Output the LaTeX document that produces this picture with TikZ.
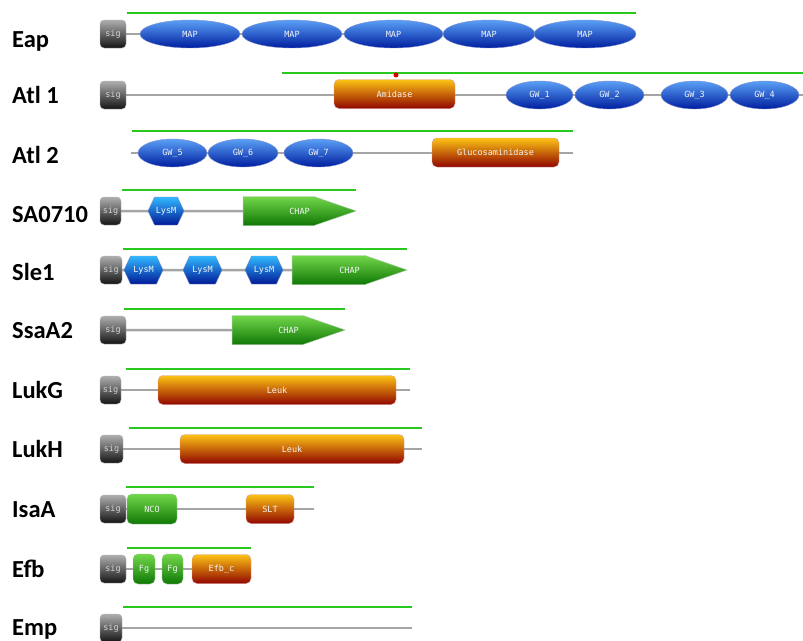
\documentclass[tikz,border=0pt]{standalone}
\usepackage{fontspec}
\setmainfont{Carlito}
\newfontfamily\domfont{DejaVu Sans Mono}
\usetikzlibrary{shapes,shapes.geometric,shapes.symbols,positioning,backgrounds}
\definecolor{mapTop}{RGB}{90,160,245}
\definecolor{mapBot}{RGB}{0,30,160}
\definecolor{orgTop}{RGB}{252,195,20}
\definecolor{orgBot}{RGB}{145,5,0}
\definecolor{grnTop}{RGB}{115,215,75}
\definecolor{grnBot}{RGB}{15,120,5}
\definecolor{sigTop}{RGB}{175,175,175}
\definecolor{sigBot}{RGB}{20,20,20}
\definecolor{lysTop}{RGB}{50,185,255}
\definecolor{lysBot}{RGB}{0,25,150}
\definecolor{spanGreen}{RGB}{40,200,30}
\definecolor{chainGray}{RGB}{165,165,165}

\begin{document}
\begin{tikzpicture}[x=1pt, y=-1pt]
    \tikzstyle{protname} = [anchor=base west, inner sep=0pt, font=\fontsize{24.5}{24.5}\selectfont\bfseries]
    \tikzstyle{domtext} = [inner sep=0pt, text=white!92!gray, font=\domfont\fontsize{8.5}{8.5}\selectfont]
    \tikzstyle{sig} = [rectangle, rounded corners=4pt, draw=gray!60, top color=sigTop, bottom color=sigBot, minimum height=28pt, domtext, text=gray!35]
    \tikzstyle{map} = [ellipse, draw=mapBot!50, top color=mapTop, bottom color=mapBot, minimum height=28pt, domtext]
    \tikzstyle{orgbox} = [rectangle, rounded corners=5pt, draw=orgBot!40, top color=orgTop, bottom color=orgBot, minimum height=29pt, domtext]
    \tikzstyle{grnbox} = [rectangle, rounded corners=5pt, draw=grnBot!40, top color=grnTop, bottom color=grnBot, minimum height=30pt, domtext]
    \tikzstyle{lysm} = [signal, signal to=east and west, signal pointer angle=130, draw=lysBot!50, top color=lysTop, bottom color=lysBot, minimum height=28pt, domtext]
    \tikzstyle{chap} = [signal, signal to=east, signal pointer angle=38, draw=grnBot!40, top color=grnTop, bottom color=grnBot, minimum height=29pt, domtext]
    \tikzstyle{backbone} = [draw=chainGray, line width=2.5pt]
    \tikzstyle{span} = [draw=spanGreen, line width=1.8pt]

    \useasboundingbox (0,0) rectangle (803,640);

    % protein names
    \node (nEap) [protname] at (12,47) {Eap};
    \node (nAtlA) [protname] at (12,103) {Atl 1};
    \node (nAtlB) [protname] at (12,163) {Atl 2};
    \node (nSA) [protname] at (12,222) {SA0710};
    \node (nSle) [protname] at (12,280) {Sle1};
    \node (nSsa) [protname] at (12,338) {SsaA2};
    \node (nLukG) [protname] at (12,398) {LukG};
    \node (nLukH) [protname] at (12,457) {LukH};
    \node (nIsa) [protname] at (12,517) {IsaA};
    \node (nEfb) [protname] at (12,577) {Efb};
    \node (nEmp) [protname] at (12,635) {Emp};

    % Eap
    \node (sigEap) [sig, minimum width=26pt] at (113,34) {sig};
    \node (mapA) [map, minimum width=100pt] at (190,34) {MAP};
    \node (mapB) [map, minimum width=100pt] at (292,34) {MAP};
    \node (mapC) [map, minimum width=99pt] at (393.5,34) {MAP};
    \node (mapD) [map, minimum width=92pt] at (489,34) {MAP};
    \node (mapE) [map, minimum width=102pt] at (585,34) {MAP};

    % Atl 1
    \node (sigAtlA) [sig, minimum width=26pt] at (113,95) {sig};
    \node (amidase) [orgbox, minimum width=121pt] at (394.5,94) {Amidase};
    \node (gwA) [map, minimum width=67pt] at (539.5,95) {GW\_1};
    \node (gwB) [map, minimum width=69pt] at (609.5,95) {GW\_2};
    \node (gwC) [map, minimum width=67pt] at (694.5,95) {GW\_3};
    \node (gwD) [map, minimum width=69pt] at (764.5,95) {GW\_4};
    \coordinate (endAtlA) at (803,95);
    \node (cutsite) [circle, fill=red!85!black, inner sep=0pt, minimum size=5pt] at (396,75) {};

    % Atl 2
    \coordinate (startAtlB) at (131,153);
    \node (gwE) [map, minimum width=69pt] at (172.5,153) {GW\_5};
    \node (gwF) [map, minimum width=70pt] at (243,153) {GW\_6};
    \node (gwG) [map, minimum width=69pt] at (318.5,153) {GW\_7};
    \node (gluco) [orgbox, minimum width=127pt] at (495.5,152.5) {Glucosaminidase};
    \coordinate (endAtlB) at (573,153);

    % SA0710
    \node (sigSA) [sig, minimum width=21pt] at (110.5,211) {sig};
    \node (lysSA) [lysm, minimum width=36pt] at (166,211) {LysM};
    \node (chapSA) [chap, minimum width=113pt] at (278.5,211) {\hspace*{42pt}CHAP};

    % Sle1
    \node (sigSle) [sig, minimum width=22pt] at (111,270) {sig};
    \node (lysA) [lysm, minimum width=39pt] at (143.5,270) {LysM};
    \node (lysB) [lysm, minimum width=39pt] at (202.5,270) {LysM};
    \node (lysC) [lysm, minimum width=38pt] at (264,270) {LysM};
    \node (chapSle) [chap, minimum width=115pt] at (328.5,270) {\hspace*{42pt}CHAP};

    % SsaA2
    \node (sigSsa) [sig, minimum width=26pt] at (113,330) {sig};
    \node (chapSsa) [chap, minimum width=113pt] at (267.5,330) {\hspace*{42pt}CHAP};

    % LukG
    \node (sigLukG) [sig, minimum width=21pt] at (110.5,390) {sig};
    \node (leukG) [orgbox, minimum width=238pt] at (277,390) {Leuk};
    \coordinate (endLukG) at (410,390);

    % LukH
    \node (sigLukH) [sig, minimum width=23pt] at (111.5,449) {sig};
    \node (leukH) [orgbox, minimum width=224pt] at (292,449) {Leuk};
    \coordinate (endLukH) at (422,449);

    % IsaA
    \node (sigIsa) [sig, minimum width=26pt] at (113,509) {sig};
    \node (nco) [grnbox, minimum width=50pt] at (152,509) {NCO};
    \node (slt) [orgbox, minimum width=48pt] at (270,509) {SLT};
    \coordinate (endIsa) at (314,509);

    % Efb
    \node (sigEfb) [sig, minimum width=26pt] at (113,569) {sig};
    \node (fgA) [grnbox, minimum width=22pt] at (144,569) {Fg};
    \node (fgB) [grnbox, minimum width=21pt] at (172.5,569) {Fg};
    \node (efbc) [orgbox, minimum width=59pt] at (221.5,569) {Efb\_c};

    % Emp
    \node (sigEmp) [sig, minimum width=22pt] at (111,628) {sig};
    \coordinate (endEmp) at (412,628);

    % mature protein spans
    \coordinate (sEapL) at (127,13);   \coordinate (sEapR) at (636,13);
    \coordinate (sAtlAL) at (282,73);  \coordinate (sAtlAR) at (803,73);
    \coordinate (sAtlBL) at (132,131); \coordinate (sAtlBR) at (573,131);
    \coordinate (sSAL) at (122,190);   \coordinate (sSAR) at (356,190);
    \coordinate (sSleL) at (123,249);  \coordinate (sSleR) at (407,249);
    \coordinate (sSsaL) at (124,309);  \coordinate (sSsaR) at (345,309);
    \coordinate (sLukGL) at (126,369); \coordinate (sLukGR) at (410,369);
    \coordinate (sLukHL) at (129,428); \coordinate (sLukHR) at (422,428);
    \coordinate (sIsaL) at (126,487);  \coordinate (sIsaR) at (314,487);
    \coordinate (sEfbL) at (127,548);  \coordinate (sEfbR) at (251,548);
    \coordinate (sEmpL) at (123,607);  \coordinate (sEmpR) at (412,607);

    \begin{scope}[on background layer]
        \draw [backbone] (sigEap) -- (mapE);
        \draw [backbone] (sigAtlA) -- (endAtlA);
        \draw [backbone] (startAtlB) -- (endAtlB);
        \draw [backbone] (sigSA) -- (chapSA);
        \draw [backbone] (sigSle) -- (chapSle);
        \draw [backbone] (sigSsa) -- (chapSsa);
        \draw [backbone] (sigLukG) -- (endLukG);
        \draw [backbone] (sigLukH) -- (endLukH);
        \draw [backbone] (sigIsa) -- (endIsa);
        \draw [backbone] (sigEfb) -- (efbc);
        \draw [backbone] (sigEmp) -- (endEmp);

        \draw [span] (sEapL) -- (sEapR);
        \draw [span] (sAtlAL) -- (sAtlAR);
        \draw [span] (sAtlBL) -- (sAtlBR);
        \draw [span] (sSAL) -- (sSAR);
        \draw [span] (sSleL) -- (sSleR);
        \draw [span] (sSsaL) -- (sSsaR);
        \draw [span] (sLukGL) -- (sLukGR);
        \draw [span] (sLukHL) -- (sLukHR);
        \draw [span] (sIsaL) -- (sIsaR);
        \draw [span] (sEfbL) -- (sEfbR);
        \draw [span] (sEmpL) -- (sEmpR);
    \end{scope}

\end{tikzpicture}
\end{document}
